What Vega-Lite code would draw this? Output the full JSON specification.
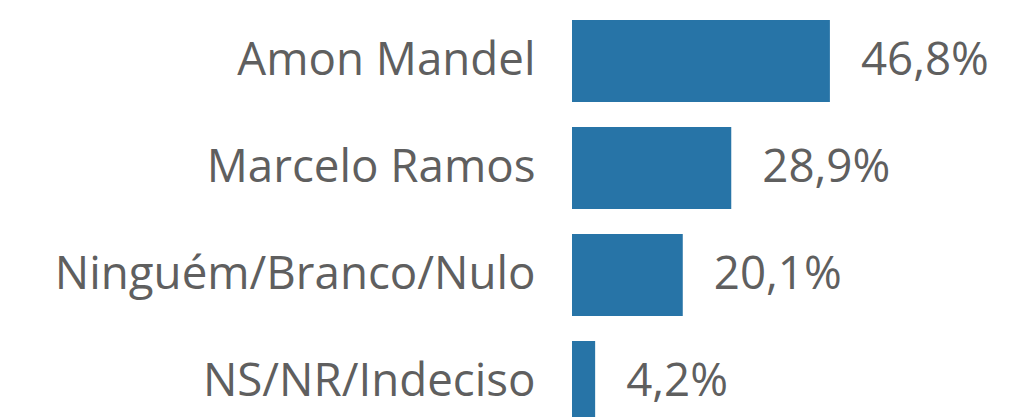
{
  "$schema": "https://vega.github.io/schema/vega-lite/v6.json",
  "autosize": {"type": "none"},
  "padding": {"left": 572, "top": 20, "right": 0, "bottom": 0},
  "width": 437,
  "height": 403,
  "background": "white",
  "config": {
    "view": {"stroke": null},
    "locale": {"number": {"decimal": ",", "thousands": ".", "grouping": [3], "currency": ["", "%"]}}
  },
  "data": {"values": [
    {"candidato": "Amon Mandel", "pct": 46.8},
    {"candidato": "Marcelo Ramos", "pct": 28.9},
    {"candidato": "Ninguém/Branco/Nulo", "pct": 20.1},
    {"candidato": "NS/NR/Indeciso", "pct": 4.2}
  ]},
  "encoding": {
    "y": {
      "field": "candidato", "type": "nominal", "sort": null,
      "scale": {"paddingInner": 0.2336, "paddingOuter": 0},
      "axis": {"title": null, "domain": false, "ticks": false, "labelFont": "Open Sans", "labelFontSize": 45.7, "labelColor": "#5f5f5f", "labelPadding": 37, "labelLimit": 600}
    },
    "x": {
      "field": "pct", "type": "quantitative",
      "scale": {"domain": [0, 79.3]},
      "axis": null
    }
  },
  "layer": [
    {"mark": {"type": "bar", "color": "#2774a7", "clip": false}},
    {"mark": {"type": "text", "align": "left", "baseline": "middle", "dx": 31, "font": "Open Sans", "fontSize": 45.7, "color": "#5f5f5f"},
     "encoding": {"text": {"field": "pct", "type": "quantitative", "format": "$.1f"}}}
  ]
}
